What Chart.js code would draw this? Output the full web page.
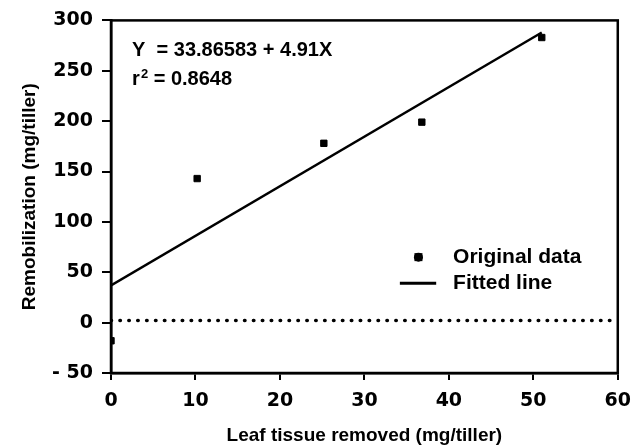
<!DOCTYPE html>
<html>
<head>
<meta charset="utf-8">
<script src="https://cdn.jsdelivr.net/npm/chart.js@4/dist/chart.umd.min.js"></script>
<style>
  html, body { margin: 0; padding: 0; background: #fff; }
  #wrap { width: 641px; height: 447px; }
</style>
</head>
<body>
<div id="wrap"><canvas id="c" width="641" height="447"></canvas></div>
<script>
// original data points
var tissueRemoved = [0, 10.2, 25.2, 36.8, 51]
var remobilization = [-18, 143, 178, 199, 283]

// fitted line end points as drawn
var fitX = [0, 51]
var fitY = [37, 288]

// zero reference line
var zeroX = [0, 60]
var zeroY = [2, 2]

var xTicks = [0, 10, 20, 30, 40, 50, 60]
var yTicks = [-50, 0, 50, 100, 150, 200, 250, 300]

var equationText = ['Y  = 33.86583 + 4.91X', 'r² = 0.8648']
var legendLabels = ['Original data', 'Fitted line']

var FONT = '"Liberation Sans", Arial, sans-serif'
var TICKFONT = '"DejaVu Sans", sans-serif'

function pairs(xs, ys) {
  return xs.map(function (x, i) { return {x: x, y: ys[i]} })
}

// box round the plot area, note and legend
var extras = {
  id: 'extras',
  afterDraw: function (chart) {
    var ctx = chart.ctx
    var a = chart.chartArea
    var xs = chart.scales.x
    var ys = chart.scales.y
    ctx.save()
    ctx.strokeStyle = '#000'
    ctx.lineWidth = 2.5
    ctx.strokeRect(a.left, a.top, a.right - a.left, a.bottom - a.top)

    ctx.fillStyle = '#000'
    ctx.textBaseline = 'middle'
    ctx.textAlign = 'left'
    var tx = xs.getPixelForValue(2.5)
    ctx.font = 'bold 20px ' + FONT
    ctx.fillText(equationText[0], tx, ys.getPixelForValue(270))
    ctx.fillText('r', tx, ys.getPixelForValue(241))
    var rw = ctx.measureText('r').width
    ctx.font = 'bold 13px ' + FONT
    ctx.fillText('2', tx + rw + 1, ys.getPixelForValue(246))
    var sw = ctx.measureText('2').width
    ctx.font = 'bold 20px ' + FONT
    ctx.fillText(' = 0.8648', tx + rw + sw + 1, ys.getPixelForValue(241))

    // legend
    var lx = xs.getPixelForValue(36.4)
    var ly1 = ys.getPixelForValue(65)
    var ly2 = ys.getPixelForValue(39)
    ctx.beginPath()
    ctx.arc(lx, ly1, 4.5, 0, Math.PI * 2)
    ctx.fill()
    ctx.fillRect(lx - 4, ly1 - 4, 8, 8)
    ctx.beginPath()
    ctx.lineWidth = 3
    ctx.moveTo(xs.getPixelForValue(34.2), ly2)
    ctx.lineTo(xs.getPixelForValue(38.5), ly2)
    ctx.stroke()
    ctx.font = 'bold 21px ' + FONT
    ctx.fillText(legendLabels[0], xs.getPixelForValue(40.5), ly1)
    ctx.fillText(legendLabels[1], xs.getPixelForValue(40.5), ly2)
    ctx.restore()
  }
}

new Chart(document.getElementById('c'), {
  type: 'scatter',
  data: {
    datasets: [{
      label: legendLabels[1],
      type: 'line',
      data: pairs(fitX, fitY),
      borderColor: '#000',
      borderWidth: 2.5,
      pointRadius: 0,
      fill: false
    }, {
      label: 'zero',
      type: 'line',
      data: pairs(zeroX, zeroY),
      borderColor: '#000',
      borderWidth: 3.5,
      borderDash: [0.5, 8.4],
      borderCapStyle: 'round',
      pointRadius: 0,
      fill: false
    }, {
      label: legendLabels[0],
      data: pairs(tissueRemoved, remobilization),
      pointStyle: 'rect',
      pointRadius: 4.5,
      backgroundColor: '#000',
      borderColor: '#000'
    }]
  },
  options: {
    responsive: false,
    animation: false,
    layout: { padding: { top: 18, right: 21, left: 0, bottom: 0 } },
    plugins: { legend: { display: false }, tooltip: { enabled: false } },
    scales: {
      x: {
        type: 'linear',
        min: 0, max: 60,
        afterBuildTicks: function (s) { s.ticks = xTicks.map(function (v) { return {value: v} }) },
        afterFit: function (s) { s.height = 74 },
        border: { display: true, color: '#000', width: 2.5 },
        grid: { drawOnChartArea: false, color: '#000', lineWidth: 2, tickLength: 7 },
        ticks: { color: '#000', font: { family: TICKFONT, size: 19, weight: 'bold' }, padding: 10, maxRotation: 0 },
        title: {
          display: true,
          text: 'Leaf tissue removed (mg/tiller)',
          color: '#000',
          font: { family: FONT, size: 19, weight: 'bold' },
          padding: { top: 6, bottom: 0 }
        }
      },
      y: {
        type: 'linear',
        min: -50, max: 300,
        afterBuildTicks: function (s) { s.ticks = yTicks.map(function (v) { return {value: v} }) },
        afterFit: function (s) { s.width = 111 },
        border: { display: true, color: '#000', width: 2.5 },
        grid: { drawOnChartArea: false, color: '#000', lineWidth: 2, tickLength: 9 },
        ticks: {
          color: '#000',
          font: { family: TICKFONT, size: 19, weight: 'bold' },
          padding: 9,
          callback: function (v) { return v < 0 ? '- ' + Math.abs(v) : String(v) }
        },
        title: {
          display: true,
          text: 'Remobilization (mg/tiller)',
          color: '#000',
          font: { family: FONT, size: 19, weight: 'bold' },
          padding: { top: 18, bottom: 4 }
        }
      }
    }
  },
  plugins: [extras]
})
</script>
</body>
</html>
